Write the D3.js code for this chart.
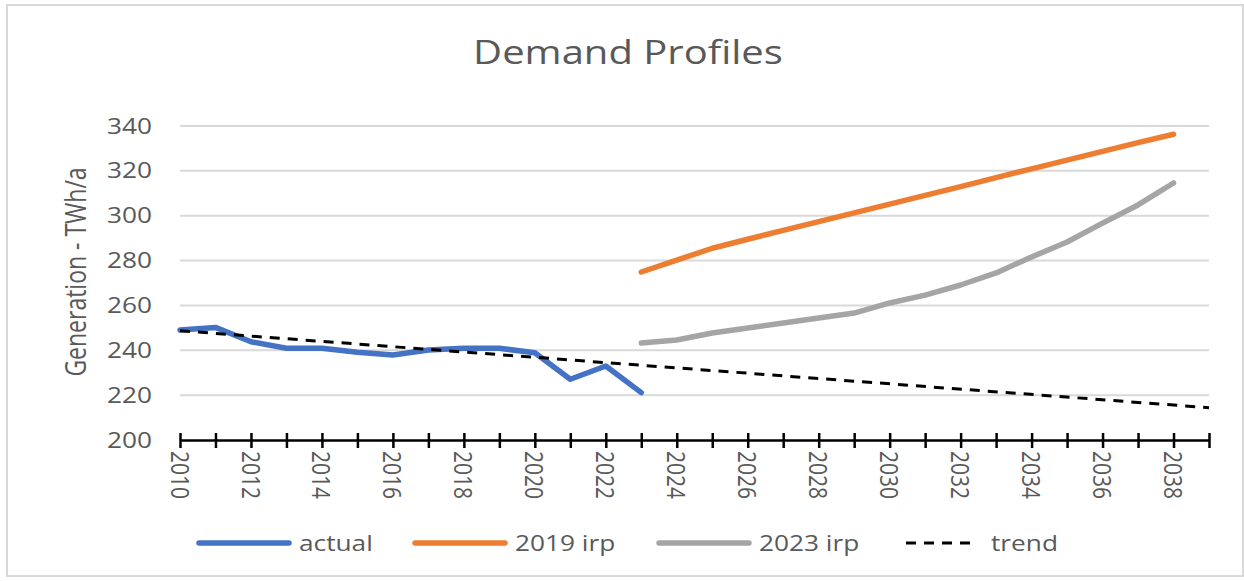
<!DOCTYPE html>
<html>
<head>
<meta charset="utf-8">
<script src="https://cdn.jsdelivr.net/npm/d3@7"></script>
<style>
  body { margin: 0; background: #fff; }
  svg { display: block; }
  text { font-family: "Open Sans", sans-serif; fill: #595959; }
</style>
</head>
<body>
<div id="chart"></div>
<script>
// Demand profiles, generation in TWh/a

var actualYears = [2010, 2011, 2012, 2013, 2014, 2015, 2016, 2017, 2018, 2019, 2020, 2021, 2022, 2023];
var actual = [249.0, 250.2, 243.8, 240.9, 240.9, 239.1, 237.9, 240.1, 240.9, 240.9, 238.9, 227.1, 233.0, 221.1];

var irpYears = [2023, 2024, 2025, 2026, 2027, 2028, 2029, 2030, 2031, 2032, 2033, 2034, 2035, 2036, 2037, 2038];
var irp2019 = [274.9, 280.2, 285.5, 289.5, 293.5, 297.4, 301.3, 305.2, 309.1, 313.0, 317.0, 320.9, 324.8, 328.7, 332.6, 336.3];
var irp2023 = [243.2, 244.6, 247.7, 249.9, 252.2, 254.4, 256.6, 261.1, 264.6, 269.1, 274.5, 281.6, 288.3, 296.7, 304.8, 314.6];

var trendYears = [2010, 2039];
var trend = [248.7, 214.4];

var yTicks = [200, 220, 240, 260, 280, 300, 320, 340];
var xTickYears = d3.range(2010, 2040);
var xLabelYears = [2010, 2012, 2014, 2016, 2018, 2020, 2022, 2024, 2026, 2028, 2030, 2032, 2034, 2036, 2038];

var seriesNames = ["actual", "2019 irp", "2023 irp", "trend"];
var seriesColors = ["#4472c4", "#ed7d31", "#a5a5a5", "#000000"];

var W = 1244, H = 581;
var stretch = 1.25; // text in the picture is drawn a bit wide

var svg = d3.select("#chart").append("svg")
	.attr("width", W)
	.attr("height", H);

svg.append("rect")
	.attr("x", 7).attr("y", 5)
	.attr("width", 1236).attr("height", 571)
	.attr("fill", "#fff")
	.attr("stroke", "#d9d9d9")
	.attr("stroke-width", 2);

var x = d3.scaleLinear().domain([2010, 2039]).range([180, 1209]);
var y = d3.scaleLinear().domain([200, 340]).range([440, 126]);

// title
svg.append("text")
	.attr("transform", "translate(628,64) scale(" + stretch + ",1)")
	.attr("text-anchor", "middle")
	.style("font-size", "32px")
	.text("Demand Profiles");

// gridlines
svg.selectAll(".grid")
	.data(yTicks.slice(1))
	.enter().append("line")
	.attr("class", "grid")
	.attr("x1", x(2010)).attr("x2", x(2039))
	.attr("y1", function(d){ return y(d); })
	.attr("y2", function(d){ return y(d); })
	.attr("stroke", "#d9d9d9")
	.attr("stroke-width", 2);

// y labels
svg.selectAll(".ylab")
	.data(yTicks)
	.enter().append("text")
	.attr("class", "ylab")
	.attr("text-anchor", "end")
	.attr("dy", "0.36em")
	.attr("transform", function(d){ return "translate(152," + y(d) + ") scale(" + stretch + ",1)"; })
	.style("font-size", "21px")
	.text(function(d){ return d; });

svg.append("text")
	.attr("transform", "translate(76,272) scale(" + stretch + ",1) rotate(-90)")
	.attr("text-anchor", "middle")
	.attr("dy", "0.35em")
	.style("font-size", "23px")
	.text("Generation - TWh/a");

// x axis, ticks cross the line
var xAxis = svg.append("g")
	.attr("transform", "translate(0," + y(200) + ")")
	.call(d3.axisBottom(x).tickValues(xTickYears).tickSize(8).tickSizeOuter(0).tickFormat(""));
xAxis.select(".domain").attr("stroke", "#000").attr("stroke-width", 2.5);
xAxis.selectAll(".tick line").attr("y1", -7).attr("stroke", "#000").attr("stroke-width", 2.5);

svg.selectAll(".xlab")
	.data(xLabelYears)
	.enter().append("text")
	.attr("class", "xlab")
	.attr("dy", "0.36em")
	.attr("transform", function(d){ return "translate(" + x(d) + ",451) scale(" + stretch + ",1) rotate(90)"; })
	.style("font-size", "21px")
	.text(function(d){ return d; });

// lines
var line = d3.line()
	.x(function(d){ return x(d[0]); })
	.y(function(d){ return y(d[1]); });

function drawSeries(years, values, color, width, dash){
	var pts = years.map(function(yr, i){ return [yr, values[i]]; });
	var p = svg.append("path")
		.datum(pts)
		.attr("d", line)
		.attr("fill", "none")
		.attr("stroke", color)
		.attr("stroke-width", width)
		.attr("stroke-linejoin", "round")
		.attr("stroke-linecap", dash ? "butt" : "round");
	if(dash) p.attr("stroke-dasharray", dash);
}

drawSeries(irpYears, irp2023, seriesColors[2], 5.5);
drawSeries(irpYears, irp2019, seriesColors[1], 5.5);
drawSeries(actualYears, actual, seriesColors[0], 5.5);
drawSeries(trendYears, trend, seriesColors[3], 3, "10,8");

// legend
var legendX = [199, 415, 659, 906];
var legendLen = [90, 90, 90, 66];
var legend = svg.selectAll(".legend")
	.data(seriesNames)
	.enter().append("g")
	.attr("class", "legend")
	.attr("transform", function(d, i){ return "translate(" + legendX[i] + ",543)"; });

legend.append("line")
	.attr("x1", 0)
	.attr("x2", function(d, i){ return legendLen[i]; })
	.attr("stroke", function(d, i){ return seriesColors[i]; })
	.attr("stroke-width", function(d, i){ return i == 3 ? 3 : 5.5; })
	.attr("stroke-linecap", function(d, i){ return i == 3 ? "butt" : "round"; })
	.attr("stroke-dasharray", function(d, i){ return i == 3 ? "10,8" : null; });

legend.append("text")
	.attr("transform", function(d, i){ return "translate(" + (legendLen[i] + (i == 3 ? 19 : 10)) + ",0) scale(" + stretch + ",1)"; })
	.attr("dy", "0.36em")
	.style("font-size", "21px")
	.text(function(d){ return d; });
</script>
</body>
</html>
